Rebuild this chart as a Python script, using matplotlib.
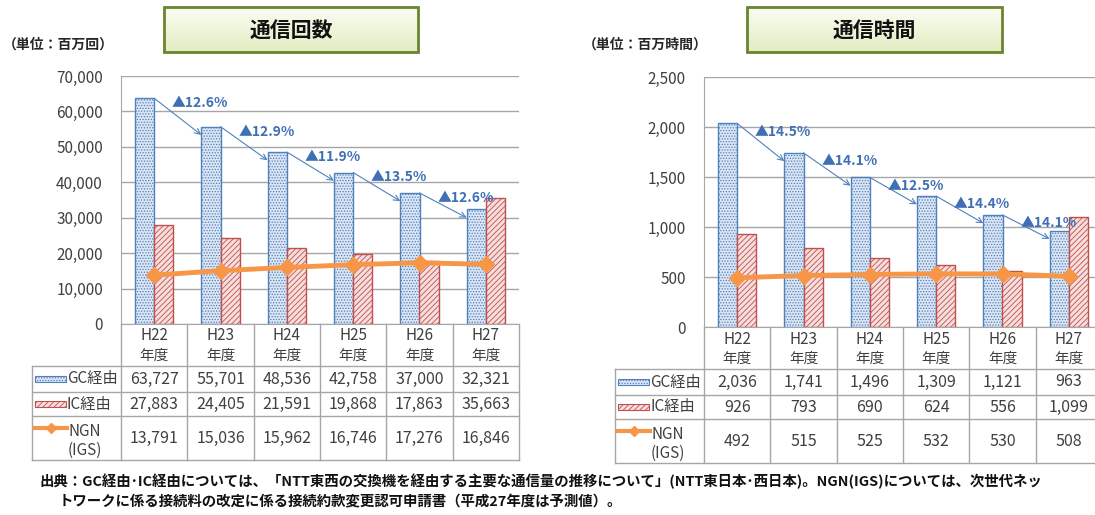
import matplotlib
matplotlib.use("Agg")
import matplotlib.pyplot as plt
from matplotlib.patches import Rectangle
from matplotlib.colors import LinearSegmentedColormap
import numpy as np

plt.rcParams['font.family'] = ['Noto Sans CJK JP', 'DejaVu Sans']
plt.rcParams['hatch.linewidth'] = 0.6

# データ
years = ["H22", "H23", "H24", "H25", "H26", "H27"]
year_sub = "年度"
series_names = ["GC経由", "IC経由", "NGN\n(IGS)"]

count_gc = [63727, 55701, 48536, 42758, 37000, 32321]
count_ic = [27883, 24405, 21591, 19868, 17863, 35663]
count_ngn = [13791, 15036, 15962, 16746, 17276, 16846]
count_drop = ["12.6%", "12.9%", "11.9%", "13.5%", "12.6%"]

time_gc = [2036, 1741, 1496, 1309, 1121, 963]
time_ic = [926, 793, 690, 624, 556, 1099]
time_ngn = [492, 515, 525, 532, 530, 508]
time_drop = ["14.5%", "14.1%", "12.5%", "14.4%", "14.1%"]

footer1 = "出典：GC経由･IC経由については、「NTT東西の交換機を経由する主要な通信量の推移について」(NTT東日本･西日本)。NGN(IGS)については、次世代ネッ"
footer2 = "トワークに係る接続料の改定に係る接続約款変更認可申請書（平成27年度は予測値）。"

W, H = 1095, 515
BLUE = '#4f81bd'
RED = '#c0504d'
ORANGE = '#f79646'
GRID = '#a6a6a6'
TXT = '#404040'
LABEL = '#3f6fb5'

fig = plt.figure(figsize=(W / 100, H / 100), dpi=100)
ov = fig.add_axes([0, 0, 1, 1])
ov.axis('off')
grad = LinearSegmentedColormap.from_list('g', ['#fbfdf2', '#e2edc2'])


def panel(x0, x1, ytop, ybot, gc, ic, ngn, drops, ymax, step, lab_dy,
          title, unit, box, unit_x, lab_left):
    ax = fig.add_axes([x0 / W, 1 - ybot / H, (x1 - x0) / W, (ybot - ytop) / H])
    n = len(years)
    idx = np.arange(n)
    w = 0.29
    ax.bar(idx - w / 2, gc, w, facecolor='#dbe5f3', edgecolor=BLUE,
           hatch='......', lw=1, zorder=2)
    ax.bar(idx + w / 2, ic, w, facecolor='#f6dedd', edgecolor=RED,
           hatch='//////', lw=1, zorder=2)
    ax.plot(idx, ngn, color=ORANGE, lw=3.5, marker='D', ms=8, zorder=4)

    # 減少率の矢印とラベル
    for i, d in enumerate(drops):
        ax.annotate('', xy=(i + 1 - w, gc[i + 1] - 0.033 * ymax), xytext=(i, gc[i]),
                    arrowprops=dict(arrowstyle='->', color=BLUE, lw=0.8,
                                    shrinkA=0, shrinkB=0, mutation_scale=10),
                    zorder=3)
        ax.text(i + 0.27, gc[i] - lab_dy * ymax, '▲' + d, color=LABEL,
                fontsize=10, fontweight='bold', ha='left', va='center', zorder=5)

    ax.set_xlim(-0.5, n - 0.5)
    ax.set_ylim(0, ymax)
    ticks = np.arange(0, ymax + 1, step)
    ax.set_yticks(ticks)
    ax.set_yticklabels([f'{int(v):,}' for v in ticks], fontsize=11, color=TXT)
    ax.tick_params(axis='y', length=0, pad=13)
    ax.set_xticks([])
    ax.grid(axis='y', color=GRID, lw=1)
    ax.set_axisbelow(True)
    for s in ['top', 'right']:
        ax.spines[s].set_visible(False)
    ax.spines['left'].set_color(GRID)
    ax.spines['bottom'].set_color(GRID)
    ax.patch.set_visible(False)

    # 表
    colw = (x1 - x0) / n
    rows = [ybot, ybot + 42, ybot + 68, ybot + 92, ybot + 136]
    for k in range(n + 1):
        xk = x0 + k * colw
        ov.plot([xk, xk], [ybot, rows[-1]], color=GRID, lw=1)
    ov.plot([lab_left, lab_left], [rows[1], rows[-1]], color=GRID, lw=1)
    for r in rows[1:]:
        ov.plot([lab_left, x1], [r, r], color=GRID, lw=1)
    for i in range(n):
        cx = x0 + (i + 0.5) * colw
        ov.text(cx, ybot + 12, years[i], ha='center', va='center', fontsize=11, color=TXT)
        ov.text(cx, ybot + 32, year_sub, ha='center', va='center', fontsize=10.5, color=TXT)
        for j, vals in enumerate([gc, ic, ngn]):
            cy = (rows[j + 1] + rows[j + 2]) / 2
            ov.text(cx, cy, f'{vals[i]:,}', ha='center', va='center', fontsize=11.5, color=TXT)

    # 凡例記号
    cy = (rows[1] + rows[2]) / 2
    ov.add_patch(Rectangle((lab_left + 3, cy - 3), 31, 6, facecolor='#dbe5f3',
                           edgecolor=BLUE, hatch='......', lw=0.8))
    ov.text(lab_left + 35, cy, series_names[0], ha='left', va='center', fontsize=11, color=TXT)
    cy = (rows[2] + rows[3]) / 2
    ov.add_patch(Rectangle((lab_left + 3, cy - 3), 31, 6, facecolor='#f6dedd',
                           edgecolor=RED, hatch='//////', lw=0.8))
    ov.text(lab_left + 35, cy, series_names[1], ha='left', va='center', fontsize=11, color=TXT)
    cy = rows[3] + 12
    ov.plot([lab_left + 3, lab_left + 35], [cy, cy], color=ORANGE, lw=3)
    ov.plot([lab_left + 19], [cy], color=ORANGE, marker='D', ms=5)
    ov.text(lab_left + 53, (rows[3] + rows[4]) / 2 + 3, series_names[2], ha='center',
            va='center', fontsize=11, color=TXT, linespacing=1.2)

    # タイトル枠
    bx0, bx1, by0, by1 = box
    ov.imshow(np.linspace(0, 1, 64).reshape(-1, 1), cmap=grad, aspect='auto',
              extent=[bx0, bx1, by1, by0], zorder=1)
    ov.add_patch(Rectangle((bx0, by0), bx1 - bx0, by1 - by0, facecolor='none',
                           edgecolor='#6a8530', lw=2, zorder=2))
    ov.text((bx0 + bx1) / 2, (by0 + by1) / 2 + 1, title, ha='center', va='center',
            fontsize=15, fontweight='bold', color='#111111', zorder=3)
    ov.text(unit_x, 45, unit, ha='left', va='center', fontsize=10,
            fontweight='bold', color='#262626')


panel(121, 519, 76, 324, count_gc, count_ic, count_ngn, count_drop, 70000, 10000, 0.02,
      "通信回数", "（単位：百万回）", (164, 418, 7, 52), 3, 32)
panel(704, 1102, 77, 327, time_gc, time_ic, time_ngn, time_drop, 2500, 500, 0.033,
      "通信時間", "（単位：百万時間）", (747, 1002, 7, 52), 583, 615)

ov.text(40, 481, footer1, ha='left', va='center', fontsize=10.4, fontweight='bold', color='#111111')
ov.text(59, 502, footer2, ha='left', va='center', fontsize=10.4, fontweight='bold', color='#111111')

ov.set_xlim(0, W)
ov.set_ylim(H, 0)

fig.savefig("out.png", dpi=100)
